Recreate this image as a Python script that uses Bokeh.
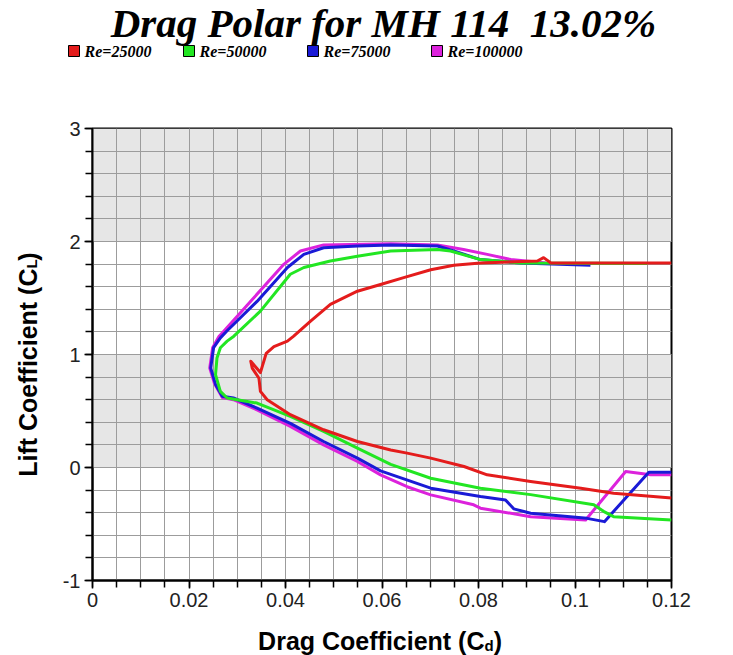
import math
from bokeh.plotting import figure
from bokeh.layouts import column, row
from bokeh.models import Range1d, FixedTicker, CustomJSTickFormatter
from bokeh.core.properties import value
from bokeh.embed import file_html
from bokeh.resources import INLINE

# ---------------- data ----------------
TITLE = "Drag Polar for MH 114\u00a0 13.02%"
SERIES = ["Re=25000", "Re=50000", "Re=75000", "Re=100000"]
COLORS = ["#e41c1c", "#22e622", "#1a1ad6", "#dc22dc"]

cd_25k = [0.120, 0.108, 0.1012, 0.0908, 0.0818, 0.0770, 0.0701, 0.0652, 0.0618,
          0.0549, 0.0479, 0.0410, 0.0362, 0.0348, 0.0345, 0.0331, 0.0328, 0.0348,
          0.0360, 0.0376, 0.0404, 0.0417, 0.0452, 0.0493, 0.0549, 0.0597, 0.0645,
          0.0701, 0.0749, 0.0804, 0.0922, 0.0935, 0.0950, 0.120]
cl_25k = [-0.27, -0.228, -0.183, -0.124, -0.065, 0.009, 0.083, 0.127, 0.155,
          0.23, 0.334, 0.467, 0.60, 0.674, 0.79, 0.88, 0.94, 0.84,
          1.01, 1.07, 1.118, 1.162, 1.295, 1.443, 1.56, 1.62, 1.68,
          1.75, 1.79, 1.81, 1.827, 1.857, 1.81, 1.81]

cd_50k = [0.120, 0.108, 0.106, 0.1039, 0.0908, 0.0804, 0.0701, 0.0618, 0.0549,
          0.0479, 0.0410, 0.0341, 0.0300, 0.0279, 0.0265, 0.0255, 0.0258, 0.0265,
          0.0279, 0.0293, 0.0348, 0.0410, 0.0438, 0.0493, 0.0549, 0.0618, 0.0715,
          0.0742, 0.0804, 0.0887, 0.1150]
cl_50k = [-0.464, -0.435, -0.39, -0.33, -0.24, -0.183, -0.095, 0.027, 0.171,
          0.32, 0.452, 0.57, 0.60, 0.615, 0.674, 0.822, 0.969, 1.06,
          1.118, 1.162, 1.384, 1.71, 1.77, 1.827, 1.87, 1.916, 1.93,
          1.916, 1.84, 1.81, 1.806]

cd_75k = [0.120, 0.1153, 0.1061, 0.1025, 0.0908, 0.0873, 0.0856, 0.0804, 0.0701,
          0.0597, 0.0549, 0.0479, 0.0410, 0.0341, 0.0292, 0.0269, 0.0255, 0.0245,
          0.0251, 0.0265, 0.0279, 0.0341, 0.0404, 0.0438, 0.0479, 0.0549, 0.0618,
          0.0715, 0.0749, 0.0804, 0.0887, 0.1032]
cl_75k = [-0.041, -0.041, -0.479, -0.45, -0.405, -0.366, -0.287, -0.257, -0.183,
          -0.03, 0.083, 0.23, 0.39, 0.526, 0.615, 0.63, 0.735, 0.88,
          1.06, 1.147, 1.21, 1.47, 1.77, 1.886, 1.945, 1.96, 1.97,
          1.96, 1.916, 1.84, 1.81, 1.79]

cd_100k = [0.120, 0.1157, 0.1105, 0.1022, 0.0908, 0.0804, 0.0790, 0.0701, 0.0652,
           0.0597, 0.0549, 0.0479, 0.0410, 0.0341, 0.0292, 0.0269, 0.0253, 0.0243,
           0.0249, 0.0262, 0.0272, 0.0334, 0.0397, 0.0431, 0.0479, 0.0618, 0.0715,
           0.0769, 0.0818, 0.0867, 0.0940]
cl_100k = [-0.065, -0.065, -0.035, -0.464, -0.435, -0.36, -0.33, -0.242, -0.17,
           -0.065, 0.053, 0.20, 0.364, 0.51, 0.60, 0.62, 0.74, 0.88,
           1.06, 1.16, 1.206, 1.50, 1.80, 1.916, 1.97, 1.98, 1.97,
           1.93, 1.886, 1.84, 1.81]

CD = [cd_25k, cd_50k, cd_75k, cd_100k]
CL = [cl_25k, cl_50k, cl_75k, cl_100k]

X_TICKS = [0, 0.02, 0.04, 0.06, 0.08, 0.10, 0.12]
X_MINOR = [round(i * 0.005, 3) for i in range(25)]
Y_TICKS = [-1, 0, 1, 2, 3]
Y_MINOR = [round(-1 + i * 0.2, 1) for i in range(21)]
GRAY_BANDS = [(0, 1), (2, 3)]

X_LABEL = ["Drag Coefficient (C", "d", ")"]
Y_LABEL = ["Lift Coefficient (C", "L", ")"]

# ---------------- layout (pixels) ----------------
W = 730
HEAD_H, MID_H, FOOT_H = 70, 545, 40
YLAB_W = 50
MAIN_W = W - YLAB_W
FRAME_W, FRAME_H = 579, 452
M_LEFT, M_TOP = 92 - YLAB_W, 128 - HEAD_H
M_RIGHT = MAIN_W - M_LEFT - FRAME_W
M_BOTTOM = MID_H - M_TOP - FRAME_H

SANS = value("Liberation Sans")
SERIF = value("Liberation Serif")


def blank(w, h, y0):
    f = figure(width=w, height=h, x_range=Range1d(0, w), y_range=Range1d(y0 + h, y0),
               output_backend="svg", toolbar_location=None,
               x_axis_location=None, y_axis_location=None,
               min_border=0, min_border_left=0, min_border_right=0,
               min_border_top=0, min_border_bottom=0)
    f.outline_line_color = None
    f.grid.visible = False
    f.background_fill_color = "white"
    f.border_fill_color = "white"
    return f


# ---- header: title + legend ----
head = blank(W, HEAD_H, 0)
head.text(x=[383], y=[22], text=[TITLE], text_font=SERIF, text_font_style="bold italic",
          text_font_size=value("41px"), text_align="center", text_baseline="alphabetic",
          text_color="black")
SW_LEFT = [68, 183, 307, 431]
head.quad(left=SW_LEFT, right=[v + 11 for v in SW_LEFT], top=[45] * 4, bottom=[56] * 4,
          fill_color=COLORS, line_color="black", line_width=1)
head.text(x=[v + 16 for v in SW_LEFT], y=[51] * 4, text=SERIES, text_font=SERIF,
          text_font_style="bold italic", text_font_size=value("16px"),
          text_align="left", text_baseline="alphabetic", text_color="black")

# ---- y label (rotated) ----
ylab = blank(YLAB_W, MID_H, HEAD_H)
y_end = 238.8
ylab.text(x=[27], y=[y_end], text=[Y_LABEL[0]], angle=math.pi / 2, text_font=SANS,
          text_font_style="bold", text_font_size=value("25px"), text_align="right",
          text_baseline="alphabetic", text_color="black")
ylab.text(x=[31], y=[y_end], text=[Y_LABEL[1]], angle=math.pi / 2, text_font=SANS,
          text_font_style="bold", text_font_size=value("15px"), text_align="left",
          text_baseline="alphabetic", text_color="black")
ylab.text(x=[27], y=[y_end - 9.2], text=[Y_LABEL[2]], angle=math.pi / 2, text_font=SANS,
          text_font_style="bold", text_font_size=value("25px"), text_align="left",
          text_baseline="alphabetic", text_color="black")

# ---- footer: x label ----
foot = blank(W, FOOT_H, HEAD_H + MID_H)
x_end = 484
foot.text(x=[x_end], y=[640], text=[X_LABEL[0]], text_font=SANS, text_font_style="bold",
          text_font_size=value("25px"), text_align="right", text_baseline="alphabetic",
          text_color="black")
foot.text(x=[x_end], y=[645], text=[X_LABEL[1]], text_font=SANS, text_font_style="bold",
          text_font_size=value("15px"), text_align="left", text_baseline="alphabetic",
          text_color="black")
foot.text(x=[x_end + 9.2], y=[640], text=[X_LABEL[2]], text_font=SANS, text_font_style="bold",
          text_font_size=value("25px"), text_align="left", text_baseline="alphabetic",
          text_color="black")

# ---- main plot ----
p = figure(width=MAIN_W, height=MID_H, x_range=Range1d(0, 0.12), y_range=Range1d(-1, 3),
           output_backend="svg", toolbar_location=None,
           min_border_left=M_LEFT, min_border_right=M_RIGHT,
           min_border_top=M_TOP, min_border_bottom=M_BOTTOM)
p.background_fill_color = "white"
p.border_fill_color = "white"
p.outline_line_color = "black"
p.outline_line_width = 2

for b0, b1 in GRAY_BANDS:
    p.quad(left=[0], right=[0.12], bottom=[b0], top=[b1], fill_color="#e6e6e6",
           line_color=None, level="image")

for g in (p.xgrid, p.ygrid):
    g.grid_line_color = "#9c9c9c"
    g.grid_line_width = 1
    g.minor_grid_line_color = "#9c9c9c"
    g.minor_grid_line_width = 1

fmt = CustomJSTickFormatter(code="return String(Number(tick.toFixed(4)))")
p.xaxis.ticker = FixedTicker(ticks=X_TICKS, minor_ticks=X_MINOR)
p.yaxis.ticker = FixedTicker(ticks=Y_TICKS, minor_ticks=Y_MINOR)
for ax in (p.xaxis[0], p.yaxis[0]):
    ax.formatter = fmt
    ax.axis_line_color = "black"
    ax.axis_line_width = 2
    ax.major_tick_line_color = "black"
    ax.minor_tick_line_color = "black"
    ax.major_tick_line_width = 1.5
    ax.minor_tick_line_width = 1.5
    ax.major_tick_in = 0
    ax.minor_tick_in = 0
    ax.major_tick_out = 8
    ax.minor_tick_out = 7
    ax.major_label_text_font = "Liberation Sans"
    ax.major_label_text_font_size = "20px"
    ax.major_label_text_color = "#222222"
    ax.major_label_standoff = 4

for i in [3, 2, 1, 0]:
    p.line(CD[i], CL[i], line_color=COLORS[i], line_width=3, line_join="round")

layout = column(head, row(ylab, p), foot)
open("out.html", "w").write(file_html(layout, INLINE))
